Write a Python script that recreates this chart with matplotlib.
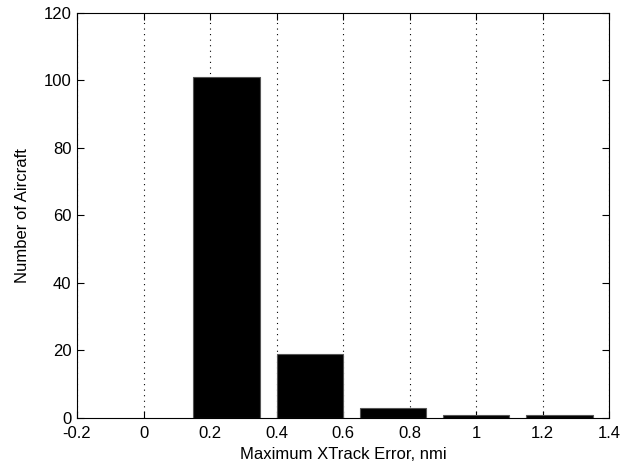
import matplotlib
matplotlib.use("Agg")
import matplotlib.pyplot as plt

centers = [0.25, 0.5, 0.75, 1.0, 1.25]
counts = [101, 19, 3, 1, 1]
xticks = [-0.2, 0, 0.2, 0.4, 0.6, 0.8, 1, 1.2, 1.4]
xlabels = ['-0.2', '0', '0.2', '0.4', '0.6', '0.8', '1', '1.2', '1.4']
yticks = [0, 20, 40, 60, 80, 100, 120]

plt.rcParams['font.family'] = ['Liberation Sans', 'DejaVu Sans']

fig = plt.figure(figsize=(6.28, 4.72), dpi=100)
ax = fig.add_axes([0.1226, 0.1144, 0.8474, 0.8581])

ax.bar(centers, counts, width=0.2, color='black', edgecolor='#555555', linewidth=0.8, zorder=3)

ax.set_xlim(-0.2, 1.4)
ax.set_ylim(0, 120)
ax.set_xticks(xticks)
ax.set_xticklabels(xlabels)
ax.set_yticks(yticks)
ax.xaxis.grid(True, linestyle=(0, (1, 4)), color='black', linewidth=0.8, zorder=1)

ax.tick_params(direction='in', top=True, right=True, labelsize=12, length=5)
ax.tick_params(axis='x', pad=6)
ax.tick_params(axis='y', pad=4)
for s in ax.spines.values():
    s.set_linewidth(0.8)

ax.set_xlabel('Maximum XTrack Error, nmi', fontsize=12, labelpad=4)
ax.set_ylabel('Number of Aircraft', fontsize=12, labelpad=10)

fig.savefig('out.png', dpi=100)
